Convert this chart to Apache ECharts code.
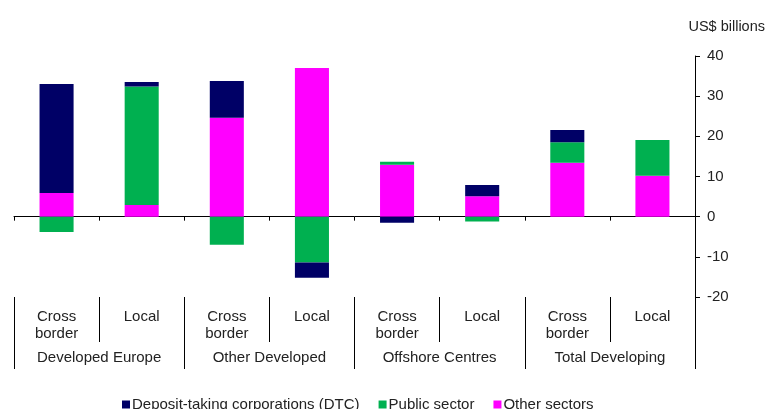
<!DOCTYPE html>
<html>
<head>
<meta charset="utf-8">
<script src="https://cdn.jsdelivr.net/npm/echarts@6/dist/echarts.min.js"></script>
<style>
  html, body { margin: 0; padding: 0; background: #fff; }
  #chart { width: 771px; height: 409px; }
</style>
</head>
<body>
<div id="chart"></div>
<script>
// categories
const flows = ['Cross\nborder', 'Local', 'Cross\nborder', 'Local', 'Cross\nborder', 'Local', 'Cross\nborder', 'Local'];
const regions = ['Developed Europe', 'Other Developed', 'Offshore Centres', 'Total Developing'];

// US$ billions
const otherSectors = [5.9, 2.9, 24.6, 37.0, 12.9, 5.1, 13.4, 10.2];
const publicSector = [-3.8, 29.5, -7.0, -11.4, 0.8, -1.2, 5.1, 8.9];
const dtc = [27.1, 1.1, 9.2, -3.8, -1.5, 2.8, 3.1, 0];

const yTicks = { min: -20, max: 40, interval: 10 };

const font = 'Liberation Sans, Arial, sans-serif';
const textColor = '#222';

const chart = echarts.init(document.getElementById('chart'));

function bar(name, data, color) {
  return {
    name: name,
    type: 'bar',
    stack: 'total',
    data: data,
    barWidth: '40%',
    itemStyle: { color: color },
    emphasis: { disabled: true }
  };
}

chart.setOption({
  animation: false,
  textStyle: { fontFamily: font },
  title: {
    text: 'US$ billions',
    right: 1,
    top: 14,
    textStyle: { fontSize: 14.5, fontWeight: 'normal', color: textColor, fontFamily: font }
  },
  grid: { left: 14, right: 76, top: 56, bottom: 112 },
  legend: {
    data: ['Deposit-taking corporations (DTC)', 'Public sector', 'Other sectors'],
    left: 122,
    top: 397,
    padding: 0,
    icon: 'rect',
    itemWidth: 8,
    itemHeight: 8,
    itemGap: 19,
    textStyle: { fontSize: 15, color: textColor, padding: [0, 0, 0, -3] }
  },
  xAxis: [
    {
      // zero line with small ticks
      type: 'category',
      data: flows,
      position: 'bottom',
      axisLine: { onZero: true, lineStyle: { color: '#000', width: 1 } },
      axisTick: { show: true, interval: 0, length: 4, lineStyle: { color: '#000' } },
      axisLabel: { show: false }
    },
    {
      // flow type labels
      type: 'category',
      data: flows,
      position: 'bottom',
      axisLine: { show: false, onZero: false },
      axisTick: { show: true, interval: 0, length: 45, lineStyle: { color: '#000' } },
      axisLabel: { interval: 0, margin: 11, fontSize: 15, lineHeight: 17, color: textColor }
    },
    {
      // region labels
      type: 'category',
      data: regions,
      position: 'bottom',
      axisLine: { show: false, onZero: false },
      axisTick: { show: true, interval: 0, length: 72, lineStyle: { color: '#000' } },
      axisLabel: { interval: 0, margin: 53, fontSize: 15, color: textColor }
    }
  ],
  yAxis: {
    type: 'value',
    position: 'right',
    min: yTicks.min,
    max: yTicks.max,
    interval: yTicks.interval,
    axisLine: { show: true, lineStyle: { color: '#000' } },
    axisTick: { show: true, length: 5, lineStyle: { color: '#000' } },
    axisLabel: { fontSize: 15, color: textColor, margin: 12 },
    splitLine: { show: false }
  },
  series: [
    bar('Other sectors', otherSectors, '#FF00FF'),
    bar('Public sector', publicSector, '#00B050'),
    bar('Deposit-taking corporations (DTC)', dtc, '#000066')
  ]
});
</script>
</body>
</html>
